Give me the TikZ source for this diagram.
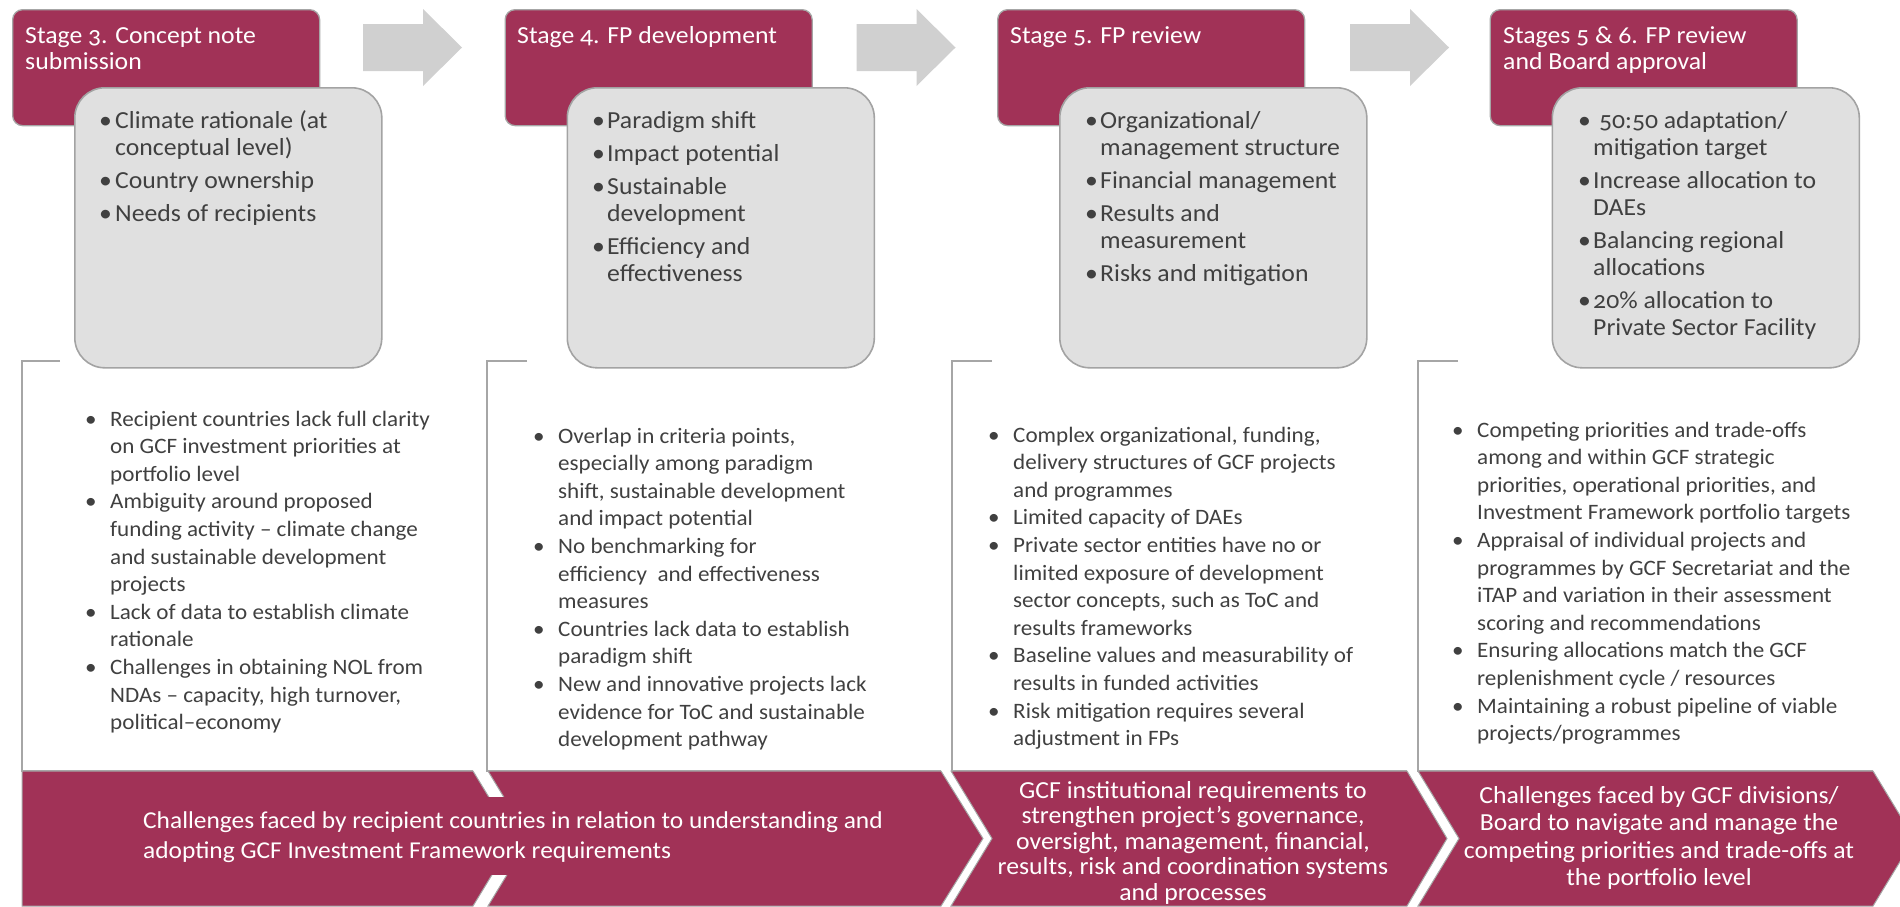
\documentclass[tikz,border=0pt]{standalone}
\usepackage{fontspec}
\setmainfont{Carlito}[Numbers=OldStyle, FakeStretch=1.05]

\definecolor{gcfmaroon}{HTML}{A13257}
\definecolor{boxfill}{HTML}{E0E0E0}
\definecolor{boxedge}{HTML}{A3A3A3}
\definecolor{arrowgray}{HTML}{D0D0D0}
\definecolor{framegray}{HTML}{A6A6A6}
\definecolor{textgray}{HTML}{404040}

% one bullet item with a hanging indent of #1; \\ breaks a line inside the item
\newcommand\bitem[2]{\par\hangindent=#1\hangafter=1\noindent\makebox[#1][l]{\textbullet}{\let\\\newline #2}\par}
% criteria list inside the grey boxes
\newcommand\critlist[1]{\parbox[t]{330pt}{\fontsize{24.5}{27}\selectfont\raggedright\parskip=6pt #1}}
% challenge list inside the lower frames
\newcommand\challist[1]{\parbox[t]{420pt}{\fontsize{22}{27.6}\selectfont\raggedright\parskip=0pt #1}}
% stage title
\newcommand\stagetitle[1]{\parbox[t]{300pt}{\fontsize{24.5}{26}\selectfont\raggedright #1}}

\begin{document}
\begin{tikzpicture}[x=1pt,y=-1pt,
  stagebox/.style={draw=framegray, fill=gcfmaroon, line width=1.3pt, rounded corners=10pt,
    minimum width=307pt, minimum height=116pt, anchor=north west, inner sep=0pt},
  critbox/.style={draw=boxedge, fill=boxfill, line width=1.6pt, rounded corners=30pt,
    minimum width=307pt, minimum height=280pt, anchor=north west, inner sep=0pt},
  frameline/.style={draw=framegray, line width=1.6pt},
  chev/.style={fill=gcfmaroon, draw=framegray, line width=1pt},
  txt/.style={inner sep=0pt, anchor=base west, text=textgray},
  wtxt/.style={inner sep=0pt, anchor=base west, text=white},
  ctxt/.style={inner sep=0pt, anchor=base, text=white},
]
\useasboundingbox (0,0) rectangle (1900,906);
\clip (0,0) rectangle (1900,906);

% frames around the challenge lists
\draw[frameline] (60,361) -- (22,361) -- (22,771) -- (473,771);
\draw[frameline] (527,361) -- (487,361) -- (487,771) -- (941,771);
\draw[frameline] (992,361) -- (952,361) -- (952,771) -- (1407,771);
\draw[frameline] (1458,361) -- (1418,361) -- (1418,771) -- (1873,771);

% chevrons along the bottom
\draw[chev] (22,771) -- (473,771) -- (514,838.5) -- (473,906) -- (22,906) -- cycle;
\draw[chev] (488,771) -- (941,771) -- (983,838.5) -- (941,906) -- (488,906) -- (529,838.5) -- cycle;
\draw[chev] (951,771) -- (1407,771) -- (1447,838.5) -- (1407,906) -- (951,906) -- (992,838.5) -- cycle;
\draw[chev] (1418,771) -- (1873,771) -- (1914,838.5) -- (1873,906) -- (1418,906) -- (1459,838.5) -- cycle;
\fill[gcfmaroon] (130,797) rectangle (900,875);

% block arrows between stages
\foreach \dx in {0,493.5,987}
  \fill[arrowgray, xshift=\dx pt] (363,24) -- (423,24) -- (423,9) -- (462,47.5)
    -- (423,86) -- (423,71) -- (363,71) -- cycle;

% stage boxes and criteria boxes
\node[stagebox] (st3) at (12,9) {};
\node[stagebox] (st4) at (504.5,9) {};
\node[stagebox] (st5) at (997,9) {};
\node[stagebox] (st6) at (1489.5,9) {};
\node[critbox] (cr3) at (74,87) {};
\node[critbox] (cr4) at (566.5,87) {};
\node[critbox] (cr5) at (1059,87) {};
\node[critbox] (cr6) at (1551.5,87) {};

% stage titles
\node[wtxt] (t3) at (25,43) {\stagetitle{Stage 3. Concept note\\submission}};
\node[wtxt] (t4) at (517,43) {\stagetitle{Stage 4. FP development}};
\node[wtxt] (t5) at (1010,43) {\stagetitle{Stage 5. FP review}};
\node[wtxt] (t6) at (1503,43) {\stagetitle{Stages 5 \& 6. FP review\\and Board approval}};

% criteria
\node[txt] (c3) at (99,128) {\critlist{%
  \bitem{16pt}{Climate rationale (at\\conceptual level)}%
  \bitem{16pt}{Country ownership}%
  \bitem{16pt}{Needs of recipients}}};
\node[txt] (c4) at (592,128) {\critlist{%
  \bitem{15pt}{Paradigm shift}%
  \bitem{15pt}{Impact potential}%
  \bitem{15pt}{Sustainable\\development}%
  \bitem{15pt}{Efficiency and\\effectiveness}}};
\node[txt] (c5) at (1085,128) {\critlist{%
  \bitem{15pt}{Organizational/\\management structure}%
  \bitem{15pt}{Financial management}%
  \bitem{15pt}{Results and\\measurement}%
  \bitem{15pt}{Risks and mitigation}}};
\node[txt] (c6) at (1578,128) {\critlist{%
  \bitem{15pt}{\ 50:50 adaptation/\\mitigation target}%
  \bitem{15pt}{Increase allocation to\\DAEs}%
  \bitem{15pt}{Balancing regional\\allocations}%
  \bitem{15pt}{20\% allocation to\\Private Sector Facility}}};

% challenges
\node[txt] (h3) at (85,426) {\challist{%
  \bitem{25pt}{Recipient countries lack full clarity\\on GCF investment priorities at\\portfolio level}%
  \bitem{25pt}{Ambiguity around proposed\\funding activity – climate change\\and sustainable development\\projects}%
  \bitem{25pt}{Lack of data to establish climate\\rationale}%
  \bitem{25pt}{Challenges in obtaining NOL from\\NDAs – capacity, high turnover,\\political–economy}}};
\node[txt] (h4) at (533,443) {\challist{%
  \bitem{25pt}{Overlap in criteria points,\\especially among paradigm\\shift, sustainable development\\and impact potential}%
  \bitem{25pt}{No benchmarking for\\efficiency\ \ and effectiveness\\measures}%
  \bitem{25pt}{Countries lack data to establish\\paradigm shift}%
  \bitem{25pt}{New and innovative projects lack\\evidence for ToC and sustainable\\development pathway}}};
\node[txt] (h5) at (988,442) {\challist{%
  \bitem{25pt}{Complex organizational, funding,\\delivery structures of GCF projects\\and programmes}%
  \bitem{25pt}{Limited capacity of DAEs}%
  \bitem{25pt}{Private sector entities have no or\\limited exposure of development\\sector concepts, such as ToC and\\results frameworks}%
  \bitem{25pt}{Baseline values and measurability of\\results in funded activities}%
  \bitem{25pt}{Risk mitigation requires several\\adjustment in FPs}}};
\node[txt] (h6) at (1452,437) {\challist{%
  \bitem{25pt}{Competing priorities and trade-offs\\among and within GCF strategic\\priorities, operational priorities, and\\Investment Framework portfolio targets}%
  \bitem{25pt}{Appraisal of individual projects and\\programmes by GCF Secretariat and the\\iTAP and variation in their assessment\\scoring and recommendations}%
  \bitem{25pt}{Ensuring allocations match the GCF\\replenishment cycle / resources}%
  \bitem{25pt}{Maintaining a robust pipeline of viable\\projects/programmes}}};

% chevron captions
\node[wtxt] (k34) at (143,828) {\parbox[t]{800pt}{\fontsize{24.2}{30}\selectfont\raggedright
  Challenges faced by recipient countries in relation to understanding and\\adopting GCF Investment Framework requirements}};
\node[ctxt] (k5) at (1193,798) {\parbox[t]{460pt}{\fontsize{24.5}{25.6}\selectfont\centering
  GCF institutional requirements to\\strengthen project’s governance,\\oversight, management, financial,\\results, risk and coordination systems\\and processes}};
\node[ctxt] (k6) at (1659,803) {\parbox[t]{460pt}{\fontsize{24.5}{27.6}\selectfont\centering
  Challenges faced by GCF divisions/\\Board to navigate and manage the\\competing priorities and trade-offs at\\the portfolio level}};
\end{tikzpicture}
\end{document}
